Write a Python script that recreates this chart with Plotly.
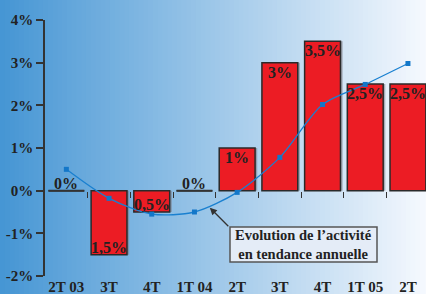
import plotly.graph_objects as go

categories = ["2T 03", "3T", "4T", "1T 04", "2T", "3T", "4T", "1T 05", "2T"]
bar_values = [0, -1.5, -0.5, 0, 1, 3, 3.5, 2.5, 2.5]
bar_labels = ["0%", "1,5%", "0,5%", "0%", "1%", "3%", "3,5%", "2,5%", "2,5%"]
trend_values = [0.5, -0.18, -0.55, -0.5, -0.04, 0.78, 2.02, 2.49, 2.98]
y_ticks = [-2, -1, 0, 1, 2, 3, 4]
callout_lines = ["Evolution de l’activité", "en tendance annuelle"]

W, H = 426, 294
ML, MR, MT, MB = 45, 0, 20, 18
pw, ph = W - ML - MR, H - MT - MB

def px(xp):
    return (xp - ML) / pw

def py(yp):
    return (H - MB - yp) / ph

xs = list(range(len(categories)))
FONT = "Liberation Serif"
BW = 0.84

fig = go.Figure()

# gradient background strips
n = 90
c0 = (70, 150, 212)
c1 = (246, 249, 254)
shapes = []
x_left = -ML / pw
x_right = 1 + MR / pw + 0.01
for k in range(n):
    t = k / (n - 1)
    col = tuple(int(round(c0[j] + (c1[j] - c0[j]) * t)) for j in range(3))
    xa = x_left + (x_right - x_left) * k / n
    xb = x_left + (x_right - x_left) * (k + 1) / n + 0.003
    shapes.append(dict(type="rect", xref="paper", yref="paper", x0=xa, x1=xb,
                       y0=-MB / ph - 0.01, y1=1 + MT / ph + 0.01,
                       fillcolor="rgb(%d,%d,%d)" % col, line=dict(width=0), layer="below"))

# shadow bars
fig.add_trace(go.Bar(x=xs, y=bar_values, width=BW, offset=-BW / 2 + 0.05,
                     marker=dict(color="rgba(120,120,130,0.55)", line=dict(width=0)),
                     hoverinfo="skip", showlegend=False))
# main bars
fig.add_trace(go.Bar(x=xs, y=bar_values, width=BW, offset=-BW / 2,
                     marker=dict(color="#ec1c24", line=dict(color="#2a2a2a", width=1.5)),
                     showlegend=False))

# zero-valued bars drawn as outline lines
for i, v in zip(xs, bar_values):
    if v == 0:
        shapes.append(dict(type="line", xref="x", yref="y", x0=i - BW / 2, x1=i + BW / 2,
                           y0=0, y1=0, line=dict(color="#333", width=2)))

# trend line
fig.add_trace(go.Scatter(x=xs, y=trend_values, mode="lines+markers",
                         line=dict(color="#1a80d0", width=1.3, shape="spline", smoothing=0.8),
                         marker=dict(symbol="square", size=5, color="#1377c9"),
                         showlegend=False))

# boundary ticks at zero line
fig.add_trace(go.Scatter(x=[0], y=[0], xaxis="x2", yaxis="y", mode="markers",
                         marker=dict(opacity=0), showlegend=False, hoverinfo="skip"))

annotations = []
for i, v, lab in zip(xs, bar_values, bar_labels):
    if v > 0:
        annotations.append(dict(x=i, y=v, text="<b>%s</b>" % lab, showarrow=False,
                                yanchor="top", yshift=1, font=dict(family=FONT, size=16, color="#222")))
    else:
        annotations.append(dict(x=i, y=v, text="<b>%s</b>" % lab, showarrow=False,
                                yanchor="bottom", yshift=-3, font=dict(family=FONT, size=16, color="#222")))

# arrow
annotations.append(dict(x=3.36, y=-0.40, xref="x", yref="y", text="", showarrow=True,
                        ax=20, ay=20, arrowhead=2, arrowsize=1.1, arrowwidth=1.3, arrowcolor="#333"))
# callout box
shapes.append(dict(type="rect", xref="paper", yref="paper", x0=px(230), x1=px(377),
                   y0=py(262), y1=py(227), fillcolor="#e4ecf7",
                   line=dict(color="#555", width=1.5)))
annotations.append(dict(x=px(303.5), y=py(244.5), xref="paper", yref="paper",
                        text="<br>".join("<b>%s</b>" % s for s in callout_lines),
                        showarrow=False, align="center", xanchor="center", yanchor="middle",
                        font=dict(family=FONT, size=14.5, color="#222")))

fig.update_layout(
    width=W, height=H,
    margin=dict(l=ML, r=MR, t=MT, b=MB),
    paper_bgcolor="white", plot_bgcolor="rgba(0,0,0,0)",
    barmode="overlay",
    shapes=shapes, annotations=annotations,
    xaxis=dict(range=[-0.5, -0.5 + pw / 42.7], tickvals=xs,
               ticktext=["<b>%s</b>" % c for c in categories],
               tickfont=dict(family=FONT, size=15, color="#222"),
               showgrid=False, zeroline=False, showline=False, ticks="", automargin=False),
    xaxis2=dict(overlaying="x", matches="x", anchor="free",
                position=(0 - y_ticks[0]) / (y_ticks[-1] - y_ticks[0]),
                side="bottom", tickvals=[i + 0.5 for i in xs[:-1]], showticklabels=False,
                ticks="outside", ticklen=6, tickwidth=1.2, tickcolor="#333",
                showgrid=False, zeroline=False, showline=False, automargin=False),
    yaxis=dict(range=[y_ticks[0], y_ticks[-1]], tickvals=y_ticks,
               ticktext=["<b>%d%%</b>" % t for t in y_ticks],
               tickfont=dict(family=FONT, size=15, color="#222"),
               showgrid=False, zeroline=False, showline=True, linecolor="#333", linewidth=1.5,
               ticks="outside", ticklen=7, tickwidth=1.5, tickcolor="#333", automargin=False),
)

fig.write_html("out.html", config={"displayModeBar": False},
               post_script="document.body.style.margin='0';document.body.style.overflow='hidden';")
